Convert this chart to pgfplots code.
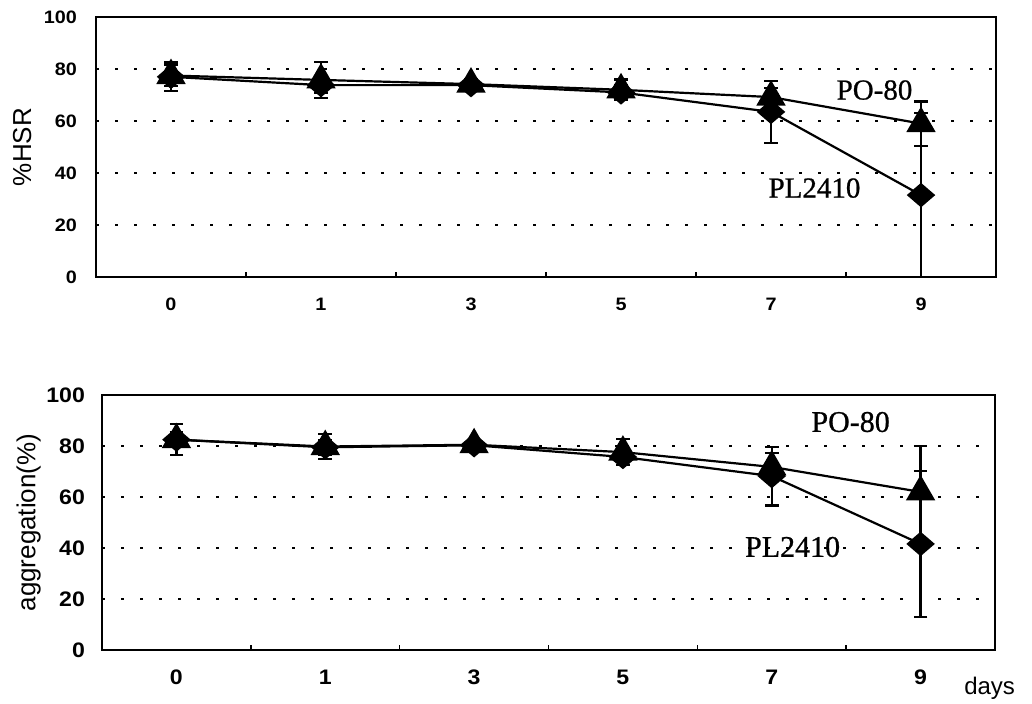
\documentclass[border=0pt]{standalone}
\usepackage{pgfplots}
\pgfplotsset{compat=1.18}
\usepackage{pgfplotstable}
\usepackage{fontspec}
\setmainfont{Liberation Serif}
\setsansfont{Liberation Sans}
\newfontfamily\tickfont[FakeStretch=1.1]{Liberation Sans Bold}
\newfontfamily\labelfont[FakeBold=0.8]{Liberation Serif}

% day index, mean, error
\pgfplotstableread{
x y e
0 77.0 5.5
1 73.8 3
2 73.8 2
3 71.0 3
4 63.5 12
5 31.5 31.5
}\hsrPL
\pgfplotstableread{
x y e
0 77.5 4
1 75.8 7
2 74.2 2
3 72.0 4
4 69.2 3.5
5 59.0 8.5
}\hsrPO
\pgfplotstableread{
x y e
0 82.5 3
1 79.5 3
2 80.3 1
3 75.7 3
4 68.2 11.5
5 41.6 28.6
}\aggPL
\pgfplotstableread{
x y e
0 82.5 6
1 79.8 5
2 80.5 1
3 77.6 5
4 71.8 5.5
5 62.0 18
}\aggPO

\pgfplotsset{
  panel/.style={scale only axis, xmin=-0.5, xmax=5.5, ymin=0, ymax=100,
    ytick={0,20,...,100}, xtick={0,...,5}, xticklabels={0,1,3,5,7,9},
    minor xtick={0.5,1.5,...,4.5}, major tick length=0pt, minor tick length=2.5pt,
    tick align=inside, xtick pos=bottom, ytick pos=left,
    axis line style={line width=1.3pt}, tick style={black, line width=0.7pt},
    ymajorgrids, grid style={black, line width=0.7pt, dash pattern=on 1.5pt off 8pt},
    /pgf/number format/assume math mode=true,
    ylabel style={at={(axis description cs:-0.082,0.5)}, anchor=center,
      font=\sffamily\fontsize{13}{15}\selectfont},
    clip=false},
  errs/.style={error bars/.cd, y dir=both, y explicit,
    error bar style={line width=1.1pt, black},
    error mark options={rotate=90, mark size=3.4pt, line width=1.1pt, black}},
  pl/.style={black, line width=1.1pt, mark=diamond*, mark size=5.4pt,
    mark options={solid, fill=black, xscale=1.55}},
  po/.style={black, line width=1.1pt, mark=triangle*, mark size=7.4pt,
    mark options={solid, fill=black}},
}

\begin{document}
\begin{tikzpicture}
\useasboundingbox (0,0) rectangle (516pt,-351.5pt);

\begin{axis}[panel, width=450pt, height=130pt, at={(48pt,-8.5pt)}, anchor=north west,
  ylabel={\%HSR},
  xticklabel style={font=\tickfont\fontsize{9}{10}\selectfont, yshift=-7pt},
  yticklabel style={font=\tickfont\fontsize{9}{10}\selectfont, xshift=-6pt}]
\addplot[pl, errs] table[x=x, y=y, y error=e] {\hsrPL};
\addplot[po, errs] table[x=x, y=y, y error=e] {\hsrPO};
\node[font=\labelfont\fontsize{14.5}{16}\selectfont] at (axis cs:4.69,71.9) {PO-80};
\node[font=\labelfont\fontsize{14.5}{16}\selectfont] at (axis cs:4.29,34.2) {PL2410};
\end{axis}

\begin{axis}[panel, width=446.5pt, height=127.5pt, at={(51pt,-197.5pt)}, anchor=north west,
  ylabel={aggregation(\%)},
  xticklabel style={font=\tickfont\fontsize{10.5}{12}\selectfont, yshift=-6.5pt},
  yticklabel style={font=\tickfont\fontsize{10.5}{12}\selectfont, xshift=-5pt}]
\addplot[pl, errs] table[x=x, y=y, y error=e] {\aggPL};
\addplot[po, errs] table[x=x, y=y, y error=e] {\aggPO};
\node[font=\labelfont\fontsize{15}{17}\selectfont] at (axis cs:4.53,89.4) {PO-80};
\node[font=\labelfont\fontsize{15}{17}\selectfont] at (axis cs:4.14,40.4) {PL2410};
\node[font=\sffamily\fontsize{12}{14}\selectfont] at (rel axis cs:0.994,-0.149) {days};
\end{axis}
\end{tikzpicture}
\end{document}
